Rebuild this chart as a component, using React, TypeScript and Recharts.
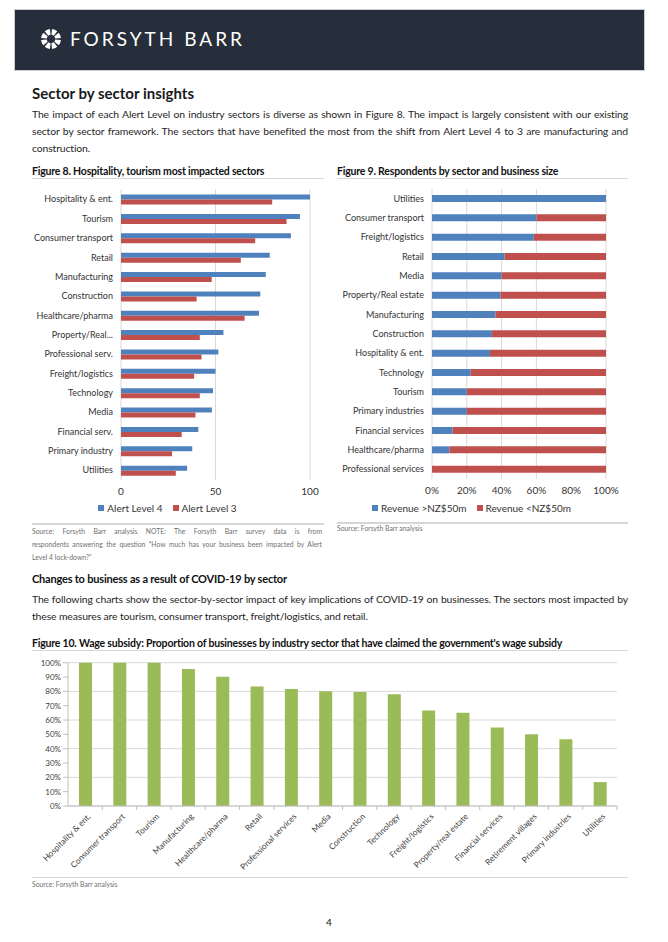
import {
  BarChart,
  Bar,
  XAxis,
  YAxis,
  CartesianGrid,
  Legend,
} from "recharts";

// Report palette (Excel defaults)
const COLORS = {
  blue: "#4f81bd",
  red: "#c0504d",
  green: "#9bbb59",
  grid: "#d9d9d9",
  axis: "#bfbfbf",
  text: "#1f1f1f",
  header: "#252e3a",
};

const FONT = "Lato, 'Open Sans', sans-serif";

// Figure 8 data
const fig8Sectors = [
  "Hospitality & ent.",
  "Tourism",
  "Consumer transport",
  "Retail",
  "Manufacturing",
  "Construction",
  "Healthcare/pharma",
  "Property/Real estate",
  "Professional serv.",
  "Freight/logistics",
  "Technology",
  "Media",
  "Financial serv.",
  "Primary industry",
  "Utilities",
];
const alertLevel4 = [100, 94.7, 89.9, 78.7, 76.6, 73.7, 73, 54.2, 51.5, 50, 48.7, 48.1, 40.9, 37.7, 35];
const alertLevel3 = [80, 87.6, 71, 63.4, 48, 40, 65.4, 41.7, 42.6, 38.7, 41.7, 39.4, 32.1, 27, 29];
const fig8Ticks = [0, 50, 100];

// Figure 9 data
const fig9Sectors = [
  "Utilities",
  "Consumer transport",
  "Freight/logistics",
  "Retail",
  "Media",
  "Property/Real estate",
  "Manufacturing",
  "Construction",
  "Hospitality & ent.",
  "Technology",
  "Tourism",
  "Primary industries",
  "Financial services",
  "Healthcare/pharma",
  "Professional services",
];
const revenueAbove = [100, 60, 58.5, 41.7, 40, 39.3, 36.5, 34.4, 33.3, 22.2, 20, 20, 11.8, 10, 0];
const revenueBelow = [0, 40, 41.5, 58.3, 60, 60.7, 63.5, 65.6, 66.7, 77.8, 80, 80, 88.2, 90, 100];
const fig9Ticks = [0, 20, 40, 60, 80, 100];

// Figure 10 data
const fig10Sectors = [
  "Hospitality & ent.",
  "Consumer transport",
  "Tourism",
  "Manufacturing",
  "Healthcare/pharma",
  "Retail",
  "Professional services",
  "Media",
  "Construction",
  "Technology",
  "Freight/logistics",
  "Property/real estate",
  "Financial services",
  "Retirement villages",
  "Primary industries",
  "Utilities",
];
const wageSubsidy = [100, 100, 100, 95.6, 90.2, 83.4, 81.6, 80, 79.5, 77.9, 66.7, 65, 54.8, 50, 46.6, 16.7];
const fig10Ticks = [0, 10, 20, 30, 40, 50, 60, 70, 80, 90, 100];

const fig8Data = fig8Sectors.map((sector, i) => ({
  sector,
  l4: alertLevel4[i],
  l3: alertLevel3[i],
}));
const fig9Data = fig9Sectors.map((sector, i) => ({
  sector,
  above: revenueAbove[i],
  below: revenueBelow[i],
}));
const fig10Data = fig10Sectors.map((sector, i) => ({
  sector,
  value: wageSubsidy[i],
}));

const fig8Legend = [
  { name: "Alert Level 4", color: COLORS.blue },
  { name: "Alert Level 3", color: COLORS.red },
];
const fig9Legend = [
  { name: "Revenue >NZ$50m", color: COLORS.blue },
  { name: "Revenue <NZ$50m", color: COLORS.red },
];

const FIG10_WIDTH = 605;
const FIG10_YAXIS = 48;
const FIG10_RIGHT = 8;
const HALF_BAND = (FIG10_WIDTH - FIG10_YAXIS - FIG10_RIGHT) / fig10Sectors.length / 2;

function truncate(s: string) {
  return s.length > 18 ? s.slice(0, 13) + "..." : s;
}

// single-line category label (Recharts would wrap long ones)
function CatTick(props: any) {
  const { x, y, payload, short } = props;
  const label = short ? truncate(payload.value) : payload.value;
  return (
    <text x={x} y={y} dy="0.35em" textAnchor="end" fontSize={9} fontFamily={FONT} fill="#333">
      {label}
    </text>
  );
}

function WageTick(props: any) {
  const { x, y, payload } = props;
  const half = payload && typeof payload.offset === "number" && payload.offset > 0 ? payload.offset : HALF_BAND;
  return (
    <g>
      <line x1={x + half} x2={x + half} y1={y - 6} y2={y - 2} stroke={COLORS.axis} />
      <text
        transform={`translate(${x + 4},${y + 3}) rotate(-45)`}
        textAnchor="end"
        fontSize={8.3}
        fontFamily={FONT}
        fill="#404040"
        dy="0.35em"
      >
        {payload.value}
      </text>
    </g>
  );
}

function LegendRow({ items }: { items: { name: string; color: string }[] }) {
  return (
    <div style={{ textAlign: "center", fontSize: 10, lineHeight: "14px", color: "#333", fontFamily: FONT }}>
      {items.map((it, i) => (
        <span key={it.name} style={{ marginLeft: i ? 10 : 0, whiteSpace: "nowrap" }}>
          <span
            style={{
              display: "inline-block",
              width: 6,
              height: 6,
              background: it.color,
              marginRight: 3,
              verticalAlign: "middle",
              position: "relative",
              top: -1,
            }}
          />
          {it.name}
        </span>
      ))}
    </div>
  );
}

function Logo() {
  const segs = [];
  for (let i = 0; i < 8; i++) {
    const a0 = ((i * 45 + 6) * Math.PI) / 180;
    const a1 = ((i * 45 + 39) * Math.PI) / 180;
    const r0 = 4.2;
    const r1 = 10;
    const p = (r: number, a: number) => `${11 + r * Math.cos(a)},${11 + r * Math.sin(a)}`;
    segs.push(
      <path key={i} d={`M${p(r0, a0)} L${p(r1, a0)} A${r1},${r1} 0 0 1 ${p(r1, a1)} L${p(r0, a1)} A${r0},${r0} 0 0 0 ${p(r0, a0)} Z`} fill="#ffffff" />
    );
  }
  return (
    <svg width={22} height={22} style={{ position: "absolute", left: 40, top: 28 }}>
      {segs}
    </svg>
  );
}

const abs = (left: number, top: number, extra: any = {}) => ({
  position: "absolute" as const,
  left,
  top,
  ...extra,
});

function Line({ left, top, width }: { left: number; top: number; width: number }) {
  return <div style={abs(left, top, { width, height: 1.5, background: "#d6d6d6" })} />;
}

function JLine({ text, top, left, width, size, lh, justify = true, color = COLORS.text, spacing = 0 }: any) {
  return (
    <div
      style={abs(left, top, {
        width,
        fontSize: size,
        lineHeight: `${lh}px`,
        letterSpacing: spacing,
        whiteSpace: "nowrap",
        textAlign: justify ? "justify" : "left",
        textAlignLast: justify ? "justify" : "left",
        color,
      })}
    >
      {text}
    </div>
  );
}

const titleStyle = {
  fontSize: 10.5,
  fontWeight: 700,
  lineHeight: "14px",
  letterSpacing: -0.2,
  color: "#111",
  whiteSpace: "nowrap" as const,
};

const BODY = { size: 10.4, lh: 17, spacing: -0.12, width: 596, left: 32 };

export default function App() {
  return (
    <div
      style={{
        position: "absolute",
        left: 0,
        top: 0,
        width: 668,
        height: 942,
        background: "#ffffff",
        fontFamily: FONT,
        overflow: "hidden",
      }}
    >
      {/* header band */}
      <div
        style={abs(15, 10, {
          width: 629,
          height: 60,
          background: COLORS.header,
          boxShadow: "0 0 0 1px #c8ccd1",
        })}
      />
      <Logo />
      <div style={abs(70, 27, { fontSize: 19, letterSpacing: 3, color: "#ffffff", lineHeight: "24px" })}>
        FORSYTH BARR
      </div>

      <div style={abs(32, 84, { fontSize: 15, fontWeight: 700, lineHeight: "18px", color: "#1a1a1a" })}>
        Sector by sector insights
      </div>
      <JLine
        {...BODY}
        top={105.5}
        text="The impact of each Alert Level on industry sectors is diverse as shown in Figure 8. The impact is largely consistent with our existing"
      />
      <JLine
        {...BODY}
        top={122.5}
        text="sector by sector framework. The sectors that have benefited the most from the shift from Alert Level 4 to 3 are manufacturing and"
      />
      <JLine {...BODY} top={139.5} justify={false} text="construction." />

      <div style={abs(32, 164, titleStyle)}>Figure 8. Hospitality, tourism most impacted sectors</div>
      <div style={abs(337, 164, titleStyle)}>Figure 9. Respondents by sector and business size</div>
      <Line left={32} top={177.5} width={292} />
      <Line left={337} top={177.5} width={291} />

      {/* Figure 8 */}
      <div style={abs(25, 180)}>
        <BarChart
          width={299}
          height={335}
          layout="vertical"
          data={fig8Data}
          margin={{ top: 9.6, right: 14, left: 0, bottom: 0 }}
          barGap={0}
        >
          <CartesianGrid horizontal={false} stroke={COLORS.grid} />
          <XAxis
            type="number"
            domain={[0, 100]}
            ticks={fig8Ticks}
            axisLine={false}
            tickLine={false}
            height={21}
            tick={{ fontSize: 10, fill: "#333", fontFamily: FONT }}
          />
          <YAxis
            type="category"
            dataKey="sector"
            width={96}
            interval={0}
            axisLine={false}
            tickLine={false}
            tick={<CatTick short />}
          />
          <Legend verticalAlign="bottom" content={() => <LegendRow items={fig8Legend} />} />
          <Bar dataKey="l4" name="Alert Level 4" fill={COLORS.blue} barSize={5} isAnimationActive={false} />
          <Bar dataKey="l3" name="Alert Level 3" fill={COLORS.red} barSize={5} isAnimationActive={false} />
        </BarChart>
      </div>

      {/* Figure 9 */}
      <div style={abs(337, 180)}>
        <BarChart
          width={291}
          height={335}
          layout="vertical"
          data={fig9Data}
          margin={{ top: 9, right: 22, left: 0, bottom: 0 }}
        >
          <CartesianGrid horizontal={false} stroke={COLORS.grid} />
          <XAxis
            type="number"
            domain={[0, 100]}
            ticks={fig9Ticks}
            tickFormatter={(v: number) => `${v}%`}
            axisLine={false}
            tickLine={false}
            height={22}
            tick={{ fontSize: 10, fill: "#333", fontFamily: FONT }}
          />
          <YAxis
            type="category"
            dataKey="sector"
            width={95}
            interval={0}
            axisLine={false}
            tickLine={false}
            tick={<CatTick />}
          />
          <Legend verticalAlign="bottom" content={() => <LegendRow items={fig9Legend} />} />
          <Bar dataKey="above" name="Revenue >NZ$50m" stackId="a" fill={COLORS.blue} barSize={7} isAnimationActive={false} />
          <Bar dataKey="below" name="Revenue <NZ$50m" stackId="a" fill={COLORS.red} barSize={7} isAnimationActive={false} />
        </BarChart>
      </div>

      <Line left={32} top={523} width={292} />
      <Line left={337} top={522} width={291} />
      <JLine
        left={32}
        top={524.5}
        width={290}
        size={6.8}
        lh={13}
        color="#707070"
        text={"Source:  Forsyth  Barr  analysis  NOTE:  The  Forsyth  Barr  survey  data  is  from"}
      />
      <JLine
        left={32}
        top={537.5}
        width={290}
        size={6.8}
        lh={13}
        color="#707070"
        text={"respondents answering the question \u201cHow much has your business been impacted by Alert"}
      />
      <JLine left={32} top={550.5} width={290} size={6.8} lh={13} color="#707070" justify={false} text={"Level 4 lock-down?\u201d"} />
      <JLine left={337} top={521.5} width={200} size={6.8} lh={13} color="#707070" justify={false} text="Source: Forsyth Barr analysis" />

      <div style={abs(32, 572, { ...titleStyle, fontSize: 11 })}>Changes to business as a result of COVID-19 by sector</div>
      <JLine
        {...BODY}
        top={590.5}
        text="The following charts show the sector-by-sector impact of key implications of COVID-19 on businesses. The sectors most impacted by"
      />
      <JLine
        {...BODY}
        top={607.5}
        justify={false}
        text="these measures are tourism, consumer transport, freight/logistics, and retail."
      />

      <div style={abs(32, 636, titleStyle)}>
        Figure 10. Wage subsidy: Proportion of businesses by industry sector that have claimed the government's wage subsidy
      </div>
      <Line left={32} top={649.5} width={596} />

      {/* Figure 10 */}
      <div style={abs(20, 652)}>
        <BarChart
          width={FIG10_WIDTH}
          height={224}
          data={fig10Data}
          margin={{ top: 10.7, right: FIG10_RIGHT, left: 0, bottom: 0 }}
        >
          <CartesianGrid vertical={false} stroke={COLORS.grid} />
          <XAxis
            dataKey="sector"
            interval={0}
            height={70}
            tickSize={4}
            tickMargin={2}
            tickLine={false}
            axisLine={{ stroke: COLORS.axis }}
            tick={<WageTick />}
          />
          <YAxis
            domain={[0, 100]}
            ticks={fig10Ticks}
            width={FIG10_YAXIS}
            tickSize={5}
            tickMargin={2}
            tickFormatter={(v: number) => `${v}%`}
            axisLine={{ stroke: COLORS.axis }}
            tickLine={{ stroke: COLORS.axis }}
            tick={{ fontSize: 8, fill: "#404040", fontFamily: FONT }}
          />
          <Bar dataKey="value" fill={COLORS.green} barSize={13} isAnimationActive={false} />
        </BarChart>
      </div>

      <Line left={32} top={876.5} width={596} />
      <JLine left={32} top={877.5} width={200} size={6.8} lh={13} color="#707070" justify={false} text="Source: Forsyth Barr analysis" />

      <div style={abs(326, 914, { fontSize: 10, lineHeight: "16px", color: "#111" })}>4</div>
    </div>
  );
}
